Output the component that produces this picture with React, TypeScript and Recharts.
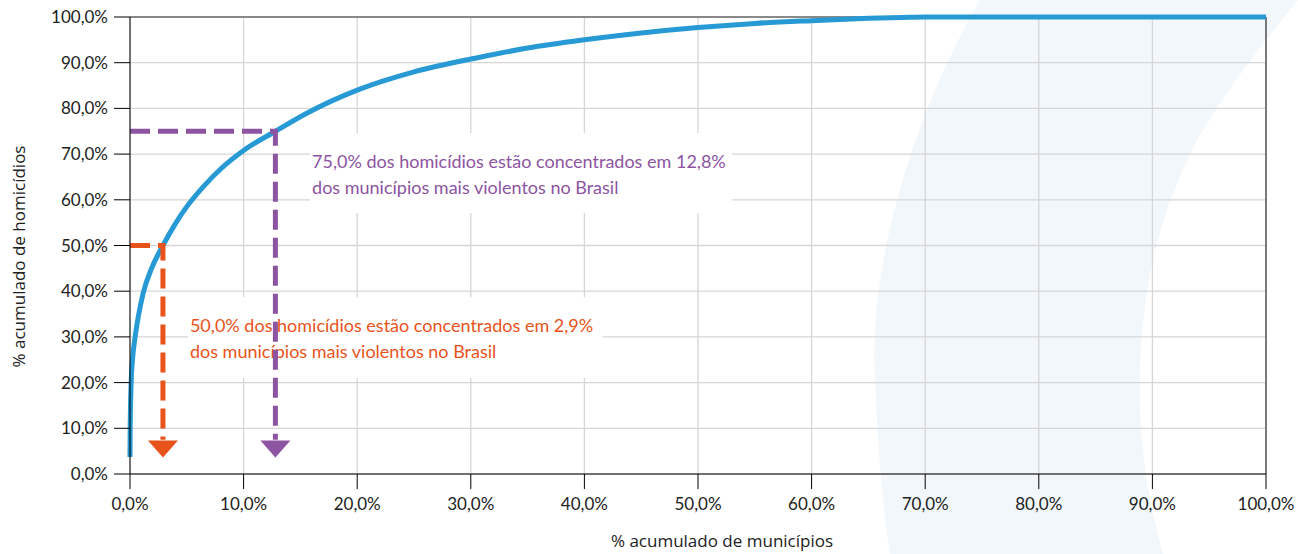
import { CartesianGrid, Line, LineChart, ReferenceArea, ReferenceLine, Scatter, XAxis, YAxis } from "recharts";

const BLUE = "#2799d4";
const ORANGE = "#e8531c";
const PURPLE = "#8d54a1";
const GRID = "#d6d6d6";
const INK = "#222";
const SWOOSH = "#f2f7fb";

// cumulative % of municipalities vs cumulative % of homicides
const cumMunicipios = [0, 0.01, 0.04, 0.1, 0.22, 0.45, 0.7, 1.15, 1.9, 2.9, 4, 5, 6.5, 8, 10, 12.8, 15.6, 20, 25, 30.8, 35, 40, 45, 50, 55, 60, 65, 68, 70, 80, 90, 100];
const cumHomicidios = [3.7, 8, 14, 20, 25, 30, 34, 39.5, 45, 50, 54.8, 58.5, 63, 66.8, 70.8, 75, 79, 84, 88, 91.2, 93.2, 95, 96.5, 97.7, 98.6, 99.2, 99.7, 99.9, 100, 100, 100, 100];

const TICKS = [0, 10, 20, 30, 40, 50, 60, 70, 80, 90, 100];

// guide lines: [x, y] corners
const orangeGuide = [[0, 50], [2.9, 50], [2.9, 7.5]];
const purpleGuide = [[0, 75], [12.8, 75], [12.8, 7.5]];
const arrowTips = { orange: [2.9, 3.6], purple: [12.8, 3.6] };

const orangeNote = ["50,0% dos homicídios estão concentrados em 2,9%", "dos municípios mais violentos no Brasil"];
const purpleNote = ["75,0% dos homicídios estão concentrados em 12,8%", "dos municípios mais violentos no Brasil"];
// note boxes: x1, x2, y1, y2
const orangeBox = [5.1, 41.6, 21.0, 38.7];
const purpleBox = [15.85, 53.0, 57.1, 74.6];

const curve = cumMunicipios.map((x, i) => ({ x, y: cumHomicidios[i] }));
const toPts = (pts: number[][]) => pts.map(([x, y]) => ({ x, y }));

const pct = (v: number) => `${v.toFixed(1).replace(".", ",")}%`;

function Arrow(props: any) {
  const { cx, cy, fill } = props;
  return <path d={`M${cx - 15},${cy - 17} L${cx + 15},${cy - 17} L${cx},${cy} Z`} fill={fill} />;
}

function noteLabel(lines: string[], color: string) {
  return (props: any) => {
    const { x, y } = props.viewBox;
    return (
      <text fill={color} fontSize={18} fontFamily="Lato">
        <tspan x={x + 2} y={y + 35}>{lines[0]}</tspan>
        <tspan x={x + 2} y={y + 61}>{lines[1]}</tspan>
      </text>
    );
  };
}

const axisTick = { fill: INK, fontSize: 17, fontFamily: "Lato" };

export default function App() {
  return (
    <div style={{ position: "absolute", left: 0, top: 0, width: 1298, height: 554, background: "#fff" }}>
      <svg width={1298} height={554} style={{ position: "absolute", left: 0, top: 0 }}>
        <path
          d="M 980 0 C 905 130, 868 280, 875 380 C 878 450, 883 510, 890 554 L 1163 554 C 1148 500, 1138 440, 1140 370 C 1143 270, 1165 200, 1200 135 C 1230 85, 1265 40, 1298 0 Z"
          fill={SWOOSH}
        />
      </svg>
      <div style={{ position: "absolute", left: 0, top: 0 }}>
        <LineChart width={1298} height={554} margin={{ top: 17, right: 32, left: 0, bottom: 0 }}>
          <CartesianGrid stroke={GRID} strokeWidth={1.3} />
          <XAxis
            type="number"
            dataKey="x"
            domain={[0, 100]}
            ticks={TICKS}
            tickFormatter={pct}
            height={80}
            tickSize={15}
            tickMargin={9}
            tick={axisTick}
            axisLine={{ stroke: "#000" }}
            tickLine={{ stroke: "#000" }}
            label={{
              content: (p: any) => (
                <text x={p.viewBox.x + p.viewBox.width / 2 + 24} y={p.viewBox.y + 73} textAnchor="middle" fill={INK} fontSize={17} fontFamily="Open Sans">
                  % acumulado de municípios
                </text>
              ),
            }}
          />
          <YAxis
            type="number"
            dataKey="y"
            domain={[0, 100]}
            ticks={TICKS}
            tickFormatter={pct}
            width={130}
            tickSize={16}
            tickMargin={6}
            tick={axisTick}
            axisLine={{ stroke: "#000" }}
            tickLine={{ stroke: "#000" }}
            label={{
              content: (p: any) => {
                const cx = 18;
                const cy = p.viewBox.y + p.viewBox.height / 2 + 11;
                return (
                  <text x={cx} y={cy} transform={`rotate(-90, ${cx}, ${cy})`} textAnchor="middle" dominantBaseline="central" fill={INK} fontSize={17} fontFamily="Open Sans">
                    % acumulado de homicídios
                  </text>
                );
              },
            }}
          />
          <ReferenceLine y={100} stroke="#333" />
          <ReferenceLine x={100} stroke="#111" />
          <Line data={curve} dataKey="y" type="monotone" stroke={BLUE} strokeWidth={5} dot={false} isAnimationActive={false} />
          <Line data={toPts(purpleGuide)} dataKey="y" type="linear" stroke={PURPLE} strokeWidth={5} strokeDasharray="20 8" dot={false} isAnimationActive={false} />
          <Line data={toPts(orangeGuide)} dataKey="y" type="linear" stroke={ORANGE} strokeWidth={5} strokeDasharray="20 8" dot={false} isAnimationActive={false} />
          <Scatter data={toPts([arrowTips.orange])} dataKey="y" fill={ORANGE} shape={Arrow} isAnimationActive={false} />
          <Scatter data={toPts([arrowTips.purple])} dataKey="y" fill={PURPLE} shape={Arrow} isAnimationActive={false} />
          <ReferenceArea
            x1={purpleBox[0]}
            x2={purpleBox[1]}
            y1={purpleBox[2]}
            y2={purpleBox[3]}
            fill="#fff"
            fillOpacity={1}
            stroke="none"
            label={{ content: noteLabel(purpleNote, PURPLE) }}
          />
          <ReferenceArea
            x1={orangeBox[0]}
            x2={orangeBox[1]}
            y1={orangeBox[2]}
            y2={orangeBox[3]}
            fill="#fff"
            fillOpacity={1}
            stroke="none"
            label={{ content: noteLabel(orangeNote, ORANGE) }}
          />
        </LineChart>
      </div>
    </div>
  );
}
